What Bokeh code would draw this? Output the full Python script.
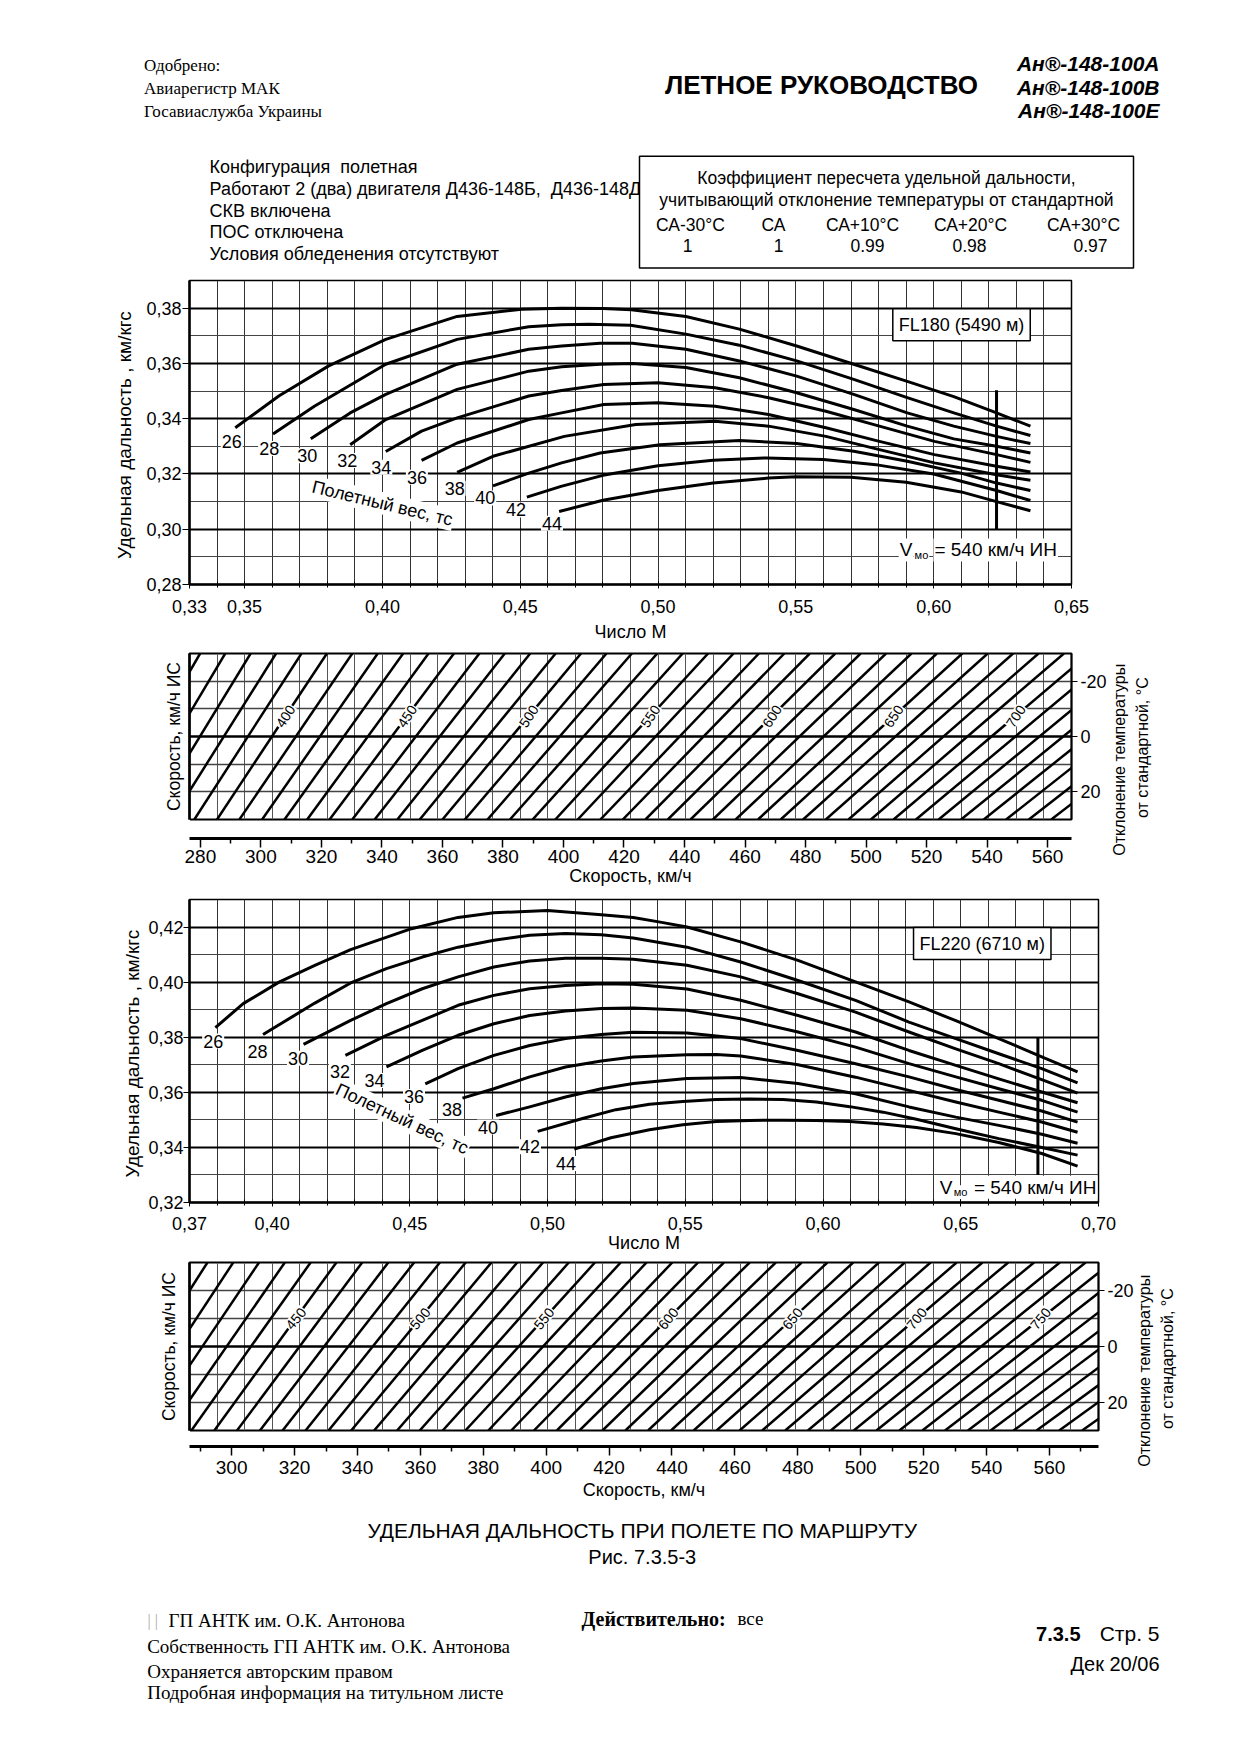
import math
import json
from bokeh.plotting import figure
from bokeh.layouts import column, row
from bokeh.models import Range1d, LinearAxis, FixedTicker, CustomJSTickFormatter, Grid, Plot
from bokeh.core.properties import value
from bokeh.embed import file_html
from bokeh.resources import INLINE

SANS = "Liberation Sans"
SERIF = "Liberation Serif"
W = 1240
HAS_FRAME_ALIGN = "frame_align" in Plot.properties()

# ---------------------------------------------------------------- DATA
weights = ["26", "28", "30", "32", "34", "36", "38", "40", "42", "44"]

# FL180: Mach number vs specific range (km/kgf) for each flight weight (tf)
fl180_m_26 = [0.3466, 0.3624, 0.3805, 0.4012, 0.4271, 0.4505, 0.4650, 0.4800, 0.4903, 0.5101, 0.5295, 0.5503, 0.5710, 0.5904, 0.6073, 0.6228, 0.6351]
fl180_v_26 = [0.3367, 0.3482, 0.3591, 0.3687, 0.3770, 0.3796, 0.3800, 0.3799, 0.3794, 0.3770, 0.3724, 0.3663, 0.3597, 0.3535, 0.3480, 0.3421, 0.3373]
fl180_m_28 = [0.3603, 0.3753, 0.4012, 0.4271, 0.4531, 0.4650, 0.4750, 0.4900, 0.5101, 0.5295, 0.5503, 0.5710, 0.5904, 0.6073, 0.6228, 0.6351]
fl180_v_28 = [0.3345, 0.3445, 0.3597, 0.3687, 0.3733, 0.3740, 0.3742, 0.3738, 0.3706, 0.3666, 0.3609, 0.3542, 0.3476, 0.3421, 0.3373, 0.3339]
fl180_m_30 = [0.3740, 0.3883, 0.4012, 0.4271, 0.4531, 0.4650, 0.4790, 0.4907, 0.5101, 0.5295, 0.5503, 0.5710, 0.5904, 0.6073, 0.6228, 0.6351]
fl180_v_30 = [0.3327, 0.3421, 0.3488, 0.3597, 0.3651, 0.3663, 0.3673, 0.3673, 0.3651, 0.3609, 0.3554, 0.3488, 0.3421, 0.3373, 0.3336, 0.3310]
fl180_m_32 = [0.3883, 0.4012, 0.4271, 0.4531, 0.4650, 0.4790, 0.4907, 0.5101, 0.5295, 0.5503, 0.5710, 0.5904, 0.6073, 0.6228, 0.6351]
fl180_v_32 = [0.3306, 0.3397, 0.3506, 0.3572, 0.3588, 0.3597, 0.3600, 0.3585, 0.3548, 0.3494, 0.3433, 0.3373, 0.3327, 0.3300, 0.3276]
fl180_m_34 = [0.4012, 0.4142, 0.4271, 0.4531, 0.4650, 0.4803, 0.5000, 0.5207, 0.5401, 0.5609, 0.5803, 0.6003, 0.6228, 0.6351]
fl180_v_34 = [0.3281, 0.3355, 0.3403, 0.3482, 0.3502, 0.3524, 0.3530, 0.3512, 0.3476, 0.3427, 0.3373, 0.3318, 0.3270, 0.3242]
fl180_m_36 = [0.4142, 0.4271, 0.4531, 0.4650, 0.4803, 0.5000, 0.5207, 0.5401, 0.5609, 0.5803, 0.6003, 0.6228, 0.6351]
fl180_v_36 = [0.3249, 0.3312, 0.3397, 0.3421, 0.3451, 0.3458, 0.3445, 0.3415, 0.3367, 0.3318, 0.3270, 0.3228, 0.3207]
fl180_m_38 = [0.4271, 0.4401, 0.4660, 0.4919, 0.5207, 0.5401, 0.5609, 0.5803, 0.6003, 0.6228, 0.6351]
fl180_v_38 = [0.3206, 0.3264, 0.3336, 0.3379, 0.3391, 0.3373, 0.3336, 0.3288, 0.3240, 0.3197, 0.3177]
fl180_m_40 = [0.4401, 0.4531, 0.4650, 0.4790, 0.5007, 0.5295, 0.5503, 0.5710, 0.5904, 0.6099, 0.6228, 0.6351]
fl180_v_40 = [0.3157, 0.3203, 0.3240, 0.3276, 0.3306, 0.3321, 0.3310, 0.3282, 0.3246, 0.3203, 0.3167, 0.3140]
fl180_m_42 = [0.4524, 0.4648, 0.4800, 0.5000, 0.5200, 0.5393, 0.5600, 0.5800, 0.6000, 0.6228, 0.6351]
fl180_v_42 = [0.3116, 0.3155, 0.3195, 0.3230, 0.3250, 0.3258, 0.3252, 0.3232, 0.3200, 0.3140, 0.3104]
fl180_m_44 = [0.4641, 0.4800, 0.5000, 0.5200, 0.5400, 0.5500, 0.5700, 0.5900, 0.6100, 0.6228, 0.6351]
fl180_v_44 = [0.3064, 0.3105, 0.3140, 0.3167, 0.3185, 0.3190, 0.3188, 0.3170, 0.3135, 0.3100, 0.3067]
fl180_lab_m = [0.3453, 0.3589, 0.3727, 0.3872, 0.3996, 0.4125, 0.4262, 0.4373, 0.4485, 0.4615]
fl180_lab_v = [0.3316, 0.3292, 0.3266, 0.3249, 0.3224, 0.3188, 0.3148, 0.3113, 0.3070, 0.3022]
vmo180_m = [0.6228, 0.6228]
vmo180_v = [0.3000, 0.3503]

# FL220
fl220_m_26 = [0.3794, 0.3895, 0.4025, 0.4155, 0.4285, 0.4506, 0.4675, 0.4805, 0.5000, 0.5195, 0.5311, 0.5414, 0.5506, 0.5701, 0.5909, 0.6118, 0.6312, 0.6482, 0.6638, 0.6794, 0.6924]
fl220_v_26 = [0.3835, 0.3922, 0.4000, 0.4061, 0.4118, 0.4194, 0.4235, 0.4252, 0.4260, 0.4245, 0.4235, 0.4217, 0.4200, 0.4146, 0.4079, 0.4001, 0.3928, 0.3860, 0.3795, 0.3729, 0.3674]
fl220_m_28 = [0.3967, 0.4155, 0.4285, 0.4415, 0.4545, 0.4675, 0.4805, 0.4935, 0.5065, 0.5195, 0.5311, 0.5506, 0.5701, 0.5909, 0.6118, 0.6312, 0.6482, 0.6638, 0.6794, 0.6924]
fl220_v_28 = [0.3810, 0.3924, 0.3997, 0.4049, 0.4091, 0.4127, 0.4152, 0.4170, 0.4177, 0.4172, 0.4160, 0.4127, 0.4073, 0.4006, 0.3934, 0.3855, 0.3795, 0.3740, 0.3686, 0.3634]
fl220_m_30 = [0.4114, 0.4285, 0.4415, 0.4545, 0.4675, 0.4805, 0.4935, 0.5065, 0.5195, 0.5311, 0.5506, 0.5701, 0.5909, 0.6118, 0.6312, 0.6482, 0.6638, 0.6794, 0.6924]
fl220_v_30 = [0.3774, 0.3861, 0.3922, 0.3976, 0.4019, 0.4055, 0.4077, 0.4087, 0.4087, 0.4083, 0.4061, 0.4019, 0.3958, 0.3891, 0.3819, 0.3758, 0.3704, 0.3646, 0.3597]
fl220_m_32 = [0.4266, 0.4415, 0.4545, 0.4675, 0.4805, 0.4935, 0.5065, 0.5195, 0.5311, 0.5506, 0.5701, 0.5909, 0.6118, 0.6312, 0.6482, 0.6638, 0.6794, 0.6924]
fl220_v_32 = [0.3734, 0.3807, 0.3861, 0.3916, 0.3952, 0.3976, 0.3988, 0.3994, 0.3992, 0.3975, 0.3934, 0.3879, 0.3819, 0.3752, 0.3698, 0.3649, 0.3601, 0.3562]
fl220_m_34 = [0.4415, 0.4545, 0.4675, 0.4805, 0.4935, 0.5065, 0.5195, 0.5311, 0.5506, 0.5701, 0.5909, 0.6118, 0.6312, 0.6482, 0.6638, 0.6794, 0.6924]
fl220_v_34 = [0.3692, 0.3752, 0.3807, 0.3849, 0.3879, 0.3895, 0.3904, 0.3906, 0.3898, 0.3867, 0.3819, 0.3764, 0.3704, 0.3656, 0.3613, 0.3571, 0.3528]
fl220_m_36 = [0.4556, 0.4675, 0.4805, 0.4935, 0.5065, 0.5195, 0.5311, 0.5506, 0.5701, 0.5909, 0.6118, 0.6312, 0.6482, 0.6638, 0.6794, 0.6924]
fl220_v_36 = [0.3631, 0.3686, 0.3734, 0.3770, 0.3795, 0.3810, 0.3818, 0.3815, 0.3795, 0.3752, 0.3704, 0.3656, 0.3610, 0.3571, 0.3532, 0.3492]
fl220_m_38 = [0.4691, 0.4805, 0.4935, 0.5065, 0.5195, 0.5311, 0.5506, 0.5612, 0.5701, 0.5909, 0.6118, 0.6312, 0.6482, 0.6638, 0.6794, 0.6924]
fl220_v_38 = [0.3579, 0.3613, 0.3656, 0.3692, 0.3714, 0.3728, 0.3736, 0.3737, 0.3732, 0.3700, 0.3655, 0.3607, 0.3565, 0.3528, 0.3492, 0.3455]
fl220_m_40 = [0.4813, 0.4935, 0.5065, 0.5195, 0.5311, 0.5506, 0.5701, 0.5909, 0.6118, 0.6312, 0.6482, 0.6638, 0.6794, 0.6924]
fl220_v_40 = [0.3516, 0.3547, 0.3583, 0.3613, 0.3632, 0.3650, 0.3654, 0.3632, 0.3595, 0.3547, 0.3510, 0.3480, 0.3448, 0.3415]
fl220_m_42 = [0.4964, 0.5127, 0.5248, 0.5370, 0.5491, 0.5612, 0.5733, 0.5855, 0.5976, 0.6097, 0.6218, 0.6339, 0.6482, 0.6638, 0.6794, 0.6924]
fl220_v_42 = [0.3458, 0.3505, 0.3537, 0.3557, 0.3567, 0.3574, 0.3576, 0.3574, 0.3565, 0.3548, 0.3528, 0.3502, 0.3468, 0.3432, 0.3400, 0.3372]
fl220_m_44 = [0.5097, 0.5230, 0.5370, 0.5491, 0.5612, 0.5733, 0.5855, 0.5976, 0.6097, 0.6218, 0.6339, 0.6482, 0.6638, 0.6794, 0.6924]
fl220_v_44 = [0.3394, 0.3435, 0.3464, 0.3482, 0.3494, 0.3498, 0.3499, 0.3498, 0.3494, 0.3485, 0.3472, 0.3450, 0.3418, 0.3378, 0.3332]
fl220_lab_m = [0.3786, 0.3947, 0.4094, 0.4246, 0.4372, 0.4515, 0.4653, 0.4784, 0.4936, 0.5067]
fl220_lab_v = [0.3786, 0.3749, 0.3724, 0.3676, 0.3643, 0.3585, 0.3537, 0.3474, 0.3402, 0.3342]
vmo220_m = [0.6780, 0.6780]
vmo220_v = [0.3300, 0.3800]

# True-airspeed lines: indicated speed (km/h) where each line meets dT = +30 (bottom) and dT = -30 (top)
ias180_top = [279.9, 288.2, 296.6, 305.0, 313.4, 321.8, 330.2, 338.6, 347.0, 355.4, 363.8, 372.2, 380.6, 389.0, 397.4,
              405.8, 414.2, 422.6, 431.0, 439.4, 447.8, 456.2, 464.6, 473.0, 481.4, 489.8, 498.2, 506.6, 515.0, 523.4,
              531.8, 540.2, 548.6, 557.0, 565.4, 573.8, 582.2, 590.6, 599.0, 607.4, 615.8, 624.2, 632.6]
ias180_bot = [248.2, 255.6, 263.1, 270.5, 278.0, 285.5, 292.9, 300.4, 307.8, 315.3, 322.7, 330.2, 337.6, 345.1, 352.5,
              360.0, 367.4, 374.9, 382.3, 389.8, 397.3, 404.7, 412.2, 419.6, 427.1, 434.5, 442.0, 449.4, 456.9, 464.3,
              471.8, 479.2, 486.7, 494.2, 501.6, 509.1, 516.5, 524.0, 531.4, 538.9, 546.3, 553.8, 561.2]
tas180_lab = ["400", "450", "500", "550", "600", "650", "700"]
tas180_lab_ias = [308.1, 348.3, 388.5, 428.7, 468.9, 509.1, 549.5]
tas180_lab_dt = [-7.3, -7.3, -7.3, -7.3, -7.3, -7.3, -7.3]

ias220_top = [292.3, 300.5, 308.7, 316.9, 325.1, 333.3, 341.5, 349.8, 358.0, 366.2, 374.4, 382.6, 390.8, 399.0, 407.2,
              415.5, 423.7, 431.9, 440.1, 448.3, 456.5, 464.7, 473.0, 481.2, 489.4, 497.6, 505.8, 514.0, 522.2, 530.5,
              538.7, 546.9, 555.1, 563.3, 571.5, 579.7, 588.0, 596.2, 604.4, 612.6, 620.8, 629.0, 637.2, 645.5]
ias220_bot = [258.2, 265.4, 272.7, 279.9, 287.2, 294.5, 301.7, 309.0, 316.2, 323.5, 330.8, 338.0, 345.3, 352.6, 359.8,
              367.1, 374.3, 381.6, 388.9, 396.1, 403.4, 410.6, 417.9, 425.2, 432.4, 439.7, 446.9, 454.2, 461.5, 468.7,
              476.0, 483.2, 490.5, 497.8, 505.0, 512.3, 519.6, 526.8, 534.1, 541.3, 548.6, 555.9, 563.1, 570.4]
tas220_lab = ["450", "500", "550", "600", "650", "700", "750"]
tas220_lab_ias = [320.4, 359.9, 399.3, 438.8, 478.3, 517.8, 557.2]
tas220_lab_dt = [-10, -10, -10, -10, -10, -10, -10]

# axes / ticks
m180_ticks = [0.33, 0.35, 0.40, 0.45, 0.50, 0.55, 0.60, 0.65]
m220_ticks = [0.37, 0.40, 0.45, 0.50, 0.55, 0.60, 0.65, 0.70]
m180_grid = [round(0.34 + 0.01 * i, 2) for i in range(31)]
m220_grid = [round(0.38 + 0.01 * i, 2) for i in range(32)]
sr180_ticks = [0.28, 0.30, 0.32, 0.34, 0.36, 0.38]
sr220_ticks = [0.32, 0.34, 0.36, 0.38, 0.40, 0.42]
sr180_grid = [round(0.29 + 0.01 * i, 2) for i in range(10)]
sr220_grid = [round(0.33 + 0.01 * i, 2) for i in range(10)]
ias180_major = list(range(280, 561, 20))
ias180_minor = list(range(290, 551, 20))
ias220_major = list(range(300, 561, 20))
ias220_minor = list(range(290, 571, 20))
dt_ticks = [-20, 0, 20]
dt_grid = [-20, -10, 10, 20]
dt_lo, dt_hi = -30, 30
dt_title_lines = ["Отклонение температуры", "от стандартной, °С"]

corr_heads = ["СА-30°С", "СА", "СА+10°С", "СА+20°С", "СА+30°С"]
corr_vals = ["1", "1", "0.99", "0.98", "0.97"]

# ---------------------------------------------------------------- HELPERS
def no_align(p):
    if HAS_FRAME_ALIGN:
        p.frame_align = False
    return p


def blank(h):
    p = figure(width=W, height=h, x_range=Range1d(0, W), y_range=Range1d(h, 0),
               x_axis_type=None, y_axis_type=None, output_backend="svg",
               toolbar_location=None, min_border=0)
    p.outline_line_color = None
    p.background_fill_color = "white"
    p.border_fill_color = "white"
    return no_align(p)


def txt(p, x, y, s, size, font=SANS, style="normal", align="left", color="black"):
    p.text(x=[x], y=[y], text=[s], text_font=value(font), text_font_size=value(size),
           text_font_style=style, text_align=align, text_baseline="middle", text_color=color)


def style_axis(ax, fs="18px", tfs="18px"):
    ax.major_label_text_font = SANS
    ax.major_label_text_font_size = fs
    ax.major_label_text_color = "black"
    ax.axis_label_text_font = SANS
    ax.axis_label_text_font_size = tfs
    ax.axis_label_text_font_style = "normal"
    ax.axis_label_text_color = "black"
    ax.axis_line_color = "black"
    ax.major_tick_line_color = "black"
    ax.minor_tick_line_color = "black"


def comma_fmt():
    return CustomJSTickFormatter(code="return tick.toFixed(2).replace('.', ',');")


def mach_chart(height, xr, yr, top_b, bot_b, right_b, x_ticks, x_grid, y_ticks, y_grid,
               xl_std, xt_std, yl_std, yt_std, ytick_out, ms, vs, lab_m, lab_v,
               fl_text, fl_xy, vmo_m, vmo_v, vmo_xy, wt_xy, wt_angle):
    p = figure(width=W, height=height, x_range=Range1d(*xr), y_range=Range1d(*yr),
               output_backend="svg", toolbar_location=None,
               min_border_left=189, min_border_right=right_b,
               min_border_top=top_b, min_border_bottom=bot_b)
    no_align(p)
    p.background_fill_color = "white"
    p.border_fill_color = "white"
    p.outline_line_color = "black"
    p.outline_line_width = 1.5

    xa = p.xaxis[0]
    style_axis(xa)
    xa.ticker = FixedTicker(ticks=x_ticks, minor_ticks=x_grid)
    xa.formatter = comma_fmt()
    xa.axis_label = "Число М"
    xa.axis_line_width = 2.5
    xa.major_tick_out = 4
    xa.major_tick_in = 3
    xa.minor_tick_out = 3
    xa.minor_tick_in = 3
    xa.major_label_standoff = xl_std
    xa.axis_label_standoff = xt_std

    ya = p.yaxis[0]
    style_axis(ya, tfs="19px")
    ya.ticker = FixedTicker(ticks=y_ticks, minor_ticks=[])
    ya.formatter = comma_fmt()
    ya.axis_label = "Удельная  дальность , км/кгс"
    ya.axis_line_width = 2.5
    ya.major_tick_out = ytick_out
    ya.major_tick_in = 0
    ya.major_label_standoff = yl_std
    ya.axis_label_standoff = yt_std

    p.xgrid.ticker = FixedTicker(ticks=x_grid)
    p.xgrid.grid_line_color = "#333333"
    p.xgrid.grid_line_width = 1
    p.ygrid.ticker = FixedTicker(ticks=y_grid)
    p.ygrid.grid_line_color = "#444444"
    p.ygrid.grid_line_width = 1
    p.add_layout(Grid(dimension=1, ticker=FixedTicker(ticks=y_ticks),
                      grid_line_color="black", grid_line_width=1.8))

    for m, v in zip(ms, vs):
        p.line(m, v, line_width=3, line_color="black", line_join="round")

    p.line(vmo_m, vmo_v, line_width=3, line_color="black")

    p.text(x=lab_m, y=lab_v, text=weights, text_font=value(SANS), text_font_size=value("18px"),
           text_align="center", text_baseline="middle", background_fill_color="white", padding=1)

    p.text(x=[wt_xy[0]], y=[wt_xy[1]], text=["Полетный вес, тс"], angle=wt_angle,
           text_font=value(SANS), text_font_size=value("18px"), text_align="center",
           text_baseline="middle", background_fill_color="white", padding=1)

    p.text(x=[fl_xy[0]], y=[fl_xy[1]], text=[fl_text], text_font=value(SANS),
           text_font_size=value("18px"), text_align="center", text_baseline="middle",
           background_fill_color="white", border_line_color="black", border_line_width=1.5,
           padding=6)

    (xv, xs, xe, yv, ys) = vmo_xy
    p.text(x=[xv], y=[yv], text=["V"], text_font=value(SANS), text_font_size=value("19px"),
           text_align="left", text_baseline="middle", background_fill_color="white", padding=1)
    p.text(x=[xs], y=[ys], text=["мо"], text_font=value(SANS), text_font_size=value("11px"),
           text_align="left", text_baseline="middle", background_fill_color="white", padding=1)
    p.text(x=[xe], y=[yv], text=["= 540 км/ч ИН"], text_font=value(SANS),
           text_font_size=value("19px"), text_align="left", text_baseline="middle",
           background_fill_color="white", padding=1)
    return p


def speed_panel(height, m_rng, ias_rng, top_b, bot_b, right_b, gap, m_grid, ias_major, ias_minor,
                d_top, d_bot, lab_x, lab_y, lab_t, lab_angle, left_std, tick_std, title_std,
                rt_pos, rt_std):
    p = figure(width=W, height=height, x_range=Range1d(*m_rng), y_range=Range1d(dt_hi, dt_lo),
               output_backend="svg", toolbar_location=None,
               min_border_left=189, min_border_right=right_b,
               min_border_top=top_b, min_border_bottom=bot_b)
    no_align(p)
    p.extra_x_ranges = {"ias": Range1d(*ias_rng)}
    p.background_fill_color = "white"
    p.border_fill_color = "white"
    p.outline_line_color = "black"
    p.outline_line_width = 2

    # spacer (default Mach axis, one blank white tick) that moves the speed scale below the panel
    sp = p.xaxis[0]
    sp.ticker = FixedTicker(ticks=[m_rng[0]], minor_ticks=[])
    sp.formatter = CustomJSTickFormatter(code="return '';")
    sp.major_tick_out = gap
    sp.major_tick_in = 0
    sp.major_tick_line_color = "white"
    sp.minor_tick_out = 0
    sp.axis_line_color = None
    sp.major_label_standoff = 0
    sp.major_label_text_font_size = "1px"

    ax = LinearAxis(x_range_name="ias", ticker=FixedTicker(ticks=ias_major, minor_ticks=ias_minor))
    style_axis(ax, fs="19px", tfs="18px")
    ax.axis_label = "Скорость, км/ч"
    ax.axis_line_width = 3
    ax.major_tick_out = 9
    ax.major_tick_in = 0
    ax.minor_tick_out = 5
    ax.minor_tick_in = 0
    ax.major_tick_line_width = 1.5
    ax.minor_tick_line_width = 1.5
    ax.major_label_standoff = tick_std
    ax.axis_label_standoff = title_std
    p.add_layout(ax, "below")

    ya = p.yaxis[0]
    style_axis(ya, tfs="17.5px")
    ya.ticker = FixedTicker(ticks=[], minor_ticks=[])
    ya.major_tick_out = 0
    ya.major_tick_in = 0
    ya.axis_line_width = 2.5
    ya.axis_label = "Скорость, км/ч ИС"
    ya.axis_label_standoff = left_std

    ra = LinearAxis(ticker=FixedTicker(ticks=dt_ticks, minor_ticks=[]))
    style_axis(ra, fs="18px")
    ra.formatter = CustomJSTickFormatter(code="return String(tick);")
    ra.major_tick_out = 6
    ra.major_tick_in = 0
    ra.major_label_standoff = 3
    ra.axis_line_width = 1.5
    p.add_layout(ra, "right")

    # two-line title of the temperature scale, read from bottom to top
    for s, pos, std in zip(dt_title_lines, rt_pos, rt_std):
        la = LinearAxis(ticker=FixedTicker(ticks=[pos], minor_ticks=[]))
        la.formatter = CustomJSTickFormatter(code="return %s;" % json.dumps(s))
        la.major_label_orientation = math.pi / 2
        la.major_label_text_font = SANS
        la.major_label_text_font_size = "16px"
        la.major_label_text_color = "black"
        la.major_tick_out = 0
        la.major_tick_in = 0
        la.minor_tick_out = 0
        la.minor_tick_in = 0
        la.major_tick_line_color = None
        la.minor_tick_line_color = None
        la.axis_line_color = None
        la.major_label_standoff = std
        p.add_layout(la, "right")

    p.xgrid.ticker = FixedTicker(ticks=m_grid)
    p.xgrid.grid_line_color = "#555555"
    p.xgrid.grid_line_width = 1
    p.ygrid.ticker = FixedTicker(ticks=dt_grid)
    p.ygrid.grid_line_color = "#444444"
    p.ygrid.grid_line_width = 1.3
    p.add_layout(Grid(dimension=1, ticker=FixedTicker(ticks=[0]),
                      grid_line_color="black", grid_line_width=2.5))

    n = len(d_top)
    p.segment(x0=d_bot, y0=[dt_hi] * n, x1=d_top, y1=[dt_lo] * n, x_range_name="ias",
              line_width=2.5, line_color="black")
    p.text(x=lab_x, y=lab_y, text=lab_t, angle=lab_angle, x_range_name="ias",
           text_font=value(SANS), text_font_size=value("14px"), text_align="center",
           text_baseline="middle", background_fill_color="white", padding=1)
    return p


# ---------------------------------------------------------------- HEADER (page coordinates)
hA = 272
pa = blank(hA)
for yy, s in ((64.5, "Одобрено:"), (88.0, "Авиарегистр МАК"), (111.0, "Госавиаслужба Украины")):
    txt(pa, 143.5, yy, s, "17px", font=SERIF)
txt(pa, 821, 84.5, "ЛЕТНОЕ РУКОВОДСТВО", "26px", style="bold", align="center")
for yy, s in ((63.0, "Ан®-148-100А"), (86.5, "Ан®-148-100В"), (109.5, "Ан®-148-100Е")):
    txt(pa, 1159, yy, s, "21px", style="bold italic", align="right")
for yy, s in ((166.9, "Конфигурация\u00a0 полетная"),
              (188.2, "Работают 2 (два) двигателя Д436-148Б,\u00a0 Д436-148Д"),
              (210.6, "СКВ включена"), (231.8, "ПОС отключена"),
              (253.1, "Условия обледенения отсутствуют")):
    txt(pa, 209, yy, s, "18px")
pa.quad(left=[639], right=[1133], top=[155.7], bottom=[267.5], fill_color="white",
        line_color="black", line_width=1.5)
txt(pa, 886, 177, "Коэффициент пересчета удельной дальности,", "17.5px", align="center")
txt(pa, 886, 199.4, "учитывающий отклонение температуры от стандартной", "17.5px", align="center")
for xx, s in zip([690, 773, 862, 970, 1083], corr_heads):
    txt(pa, xx, 224, s, "17.5px", align="center")
for xx, s in zip([687, 778, 867, 969, 1090], corr_vals):
    txt(pa, xx, 245.3, s, "17.5px", align="center")

# ---------------------------------------------------------------- FL180 CHART  (page 272-645)
pb = mach_chart(373, (0.33, 0.65), (0.28, 0.39), 8, 61, 169, m180_ticks, m180_grid,
                sr180_ticks, sr180_grid, 11, 6, 1, 8, 7,
                [fl180_m_26, fl180_m_28, fl180_m_30, fl180_m_32, fl180_m_34,
                 fl180_m_36, fl180_m_38, fl180_m_40, fl180_m_42, fl180_m_44],
                [fl180_v_26, fl180_v_28, fl180_v_30, fl180_v_32, fl180_v_34,
                 fl180_v_36, fl180_v_38, fl180_v_40, fl180_v_42, fl180_v_44],
                fl180_lab_m, fl180_lab_v, "FL180 (5490 м)", (0.6101, 0.3740),
                vmo180_m, vmo180_v, (0.5873, 0.5927, 0.5999, 0.2925, 0.2905),
                (0.400, 0.3094), -0.236)

# ---------------------------------------------------------------- FL180 SPEED PANEL (page 645-893)
pc = speed_panel(248, (0.33, 0.65), (276.4, 567.9), 8, 74, 169, 19, m180_grid,
                 ias180_major, ias180_minor, ias180_top, ias180_bot,
                 tas180_lab_ias, tas180_lab_dt, tas180_lab, 0.985, 6, 2, 0,
                 [29.9, 29.5], [10, 3])

# ---------------------------------------------------------------- FL220 CHART (page 893-1256)
pe = mach_chart(363, (0.37, 0.70), (0.32, 0.43), 6, 54, 142, m220_ticks, m220_grid,
                sr220_ticks, sr220_grid, 10, 0, 0, 2, 6,
                [fl220_m_26, fl220_m_28, fl220_m_30, fl220_m_32, fl220_m_34,
                 fl220_m_36, fl220_m_38, fl220_m_40, fl220_m_42, fl220_m_44],
                [fl220_v_26, fl220_v_28, fl220_v_30, fl220_v_32, fl220_v_34,
                 fl220_v_36, fl220_v_38, fl220_v_40, fl220_v_42, fl220_v_44],
                fl220_lab_m, fl220_lab_v, "FL220 (6710 м)", (0.6578, 0.4140),
                vmo220_m, vmo220_v, (0.6420, 0.6471, 0.6544, 0.3255, 0.3237),
                (0.4472, 0.3504), -0.436)

# ---------------------------------------------------------------- FL220 SPEED PANEL (page 1256-1506)
pf = speed_panel(250, (0.37, 0.70), (286.6, 575.6), 6, 76, 142, 16, m220_grid,
                 ias220_major, ias220_minor, ias220_top, ias220_bot,
                 tas220_lab_ias, tas220_lab_dt, tas220_lab, 0.883, 11, 5, 3,
                 [29.9, 29.5], [8, 3])

# ---------------------------------------------------------------- FOOTER (page 1506-1755)
hH = 249
ph = blank(hH)
txt(ph, 641.8, 24, "УДЕЛЬНАЯ ДАЛЬНОСТЬ ПРИ ПОЛЕТЕ ПО МАРШРУТУ", "21px", align="center")
txt(ph, 641.8, 50, "Рис. 7.3.5-3", "20px", align="center")
txt(ph, 147, 113.5, "|\u00a0|", "16px", font=SERIF, color="#aaaaaa")
txt(ph, 168, 113.5, "ГП АНТК им. О.К. Антонова", "19px", font=SERIF)
txt(ph, 146.7, 140, "Собственность ГП АНТК им. О.К. Антонова", "19px", font=SERIF)
txt(ph, 146.7, 165, "Охраняется авторским правом", "19px", font=SERIF)
txt(ph, 146.7, 186, "Подробная информация на титульном листе", "19px", font=SERIF)
txt(ph, 581, 112, "Действительно:", "20px", font=SERIF, style="bold")
txt(ph, 737, 112, "все", "19px", font=SERIF)
txt(ph, 1159, 127, "Стр. 5", "21px", align="right")
txt(ph, 1080, 127, "7.3.5", "20px", style="bold", align="right")
txt(ph, 1159, 157, "Дек 20/06", "20px", align="right")

figs = [pa, pb, pc, pe, pf, ph]
if HAS_FRAME_ALIGN:
    layout = column(*figs, spacing=0)
else:
    layout = column(*[row(f) for f in figs], spacing=0)
open("out.html", "w").write(file_html(layout, INLINE))
